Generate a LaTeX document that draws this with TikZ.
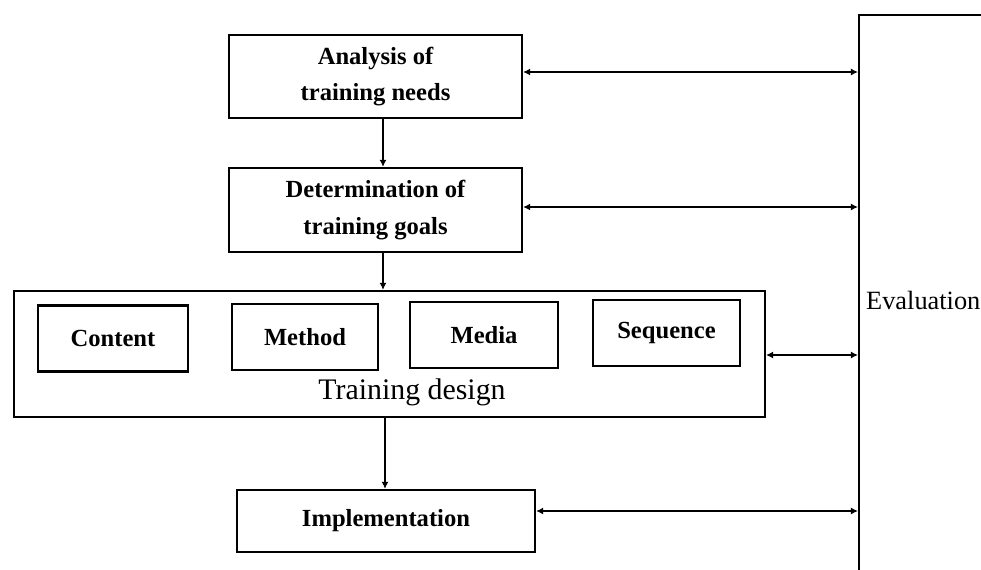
\documentclass[tikz,border=0pt]{standalone}
\usepackage{fontspec}
\setmainfont{Liberation Serif}
\usetikzlibrary{arrows.meta}
\begin{document}
\begin{tikzpicture}[x=0.02cm,y=-0.02cm,
    stage/.style={draw,line width=1.3pt,align=center,inner sep=0pt,font=\fontsize{14}{21}\selectfont\bfseries},
    part/.style={draw,line width=1.3pt,inner sep=0pt,minimum height=1.32cm,font=\fontsize{14}{17}\selectfont\bfseries},
    link/.style={line width=1pt,-{Latex[length=4pt,width=4pt]}},
    twoway/.style={line width=1pt,{Latex[length=4pt,width=4pt]}-{Latex[length=4pt,width=4pt]}}]
            \useasboundingbox (0,0) rectangle (981,569);

            \node[stage,minimum width=5.86cm,minimum height=1.66cm] (analysis) at (375.5,76.5) {Analysis of\\training needs};
            \node[stage,minimum width=5.86cm,minimum height=1.68cm] (goals) at (375.5,210) {Determination of\\training goals};
            \node[draw,line width=1.3pt,minimum width=15.02cm,minimum height=2.52cm] (design) at (389.5,354) {};
            \node[part,minimum width=3.0cm] (content) at (113,338.5) {Content};
            \node[part,minimum width=2.92cm] (method) at (305,337) {Method};
            \node[part,minimum width=2.96cm] (media) at (484,335) {Media};
            \node[part,minimum width=2.94cm] (sequence) at (666.5,333) {Sequence};
            \node[font=\fontsize{17}{20}\selectfont] (designlabel) at (412,392) {Training design};
            \node[stage,minimum width=5.96cm,minimum height=1.24cm] (implementation) at (386,521) {Implementation};
            \node[draw,line width=1.3pt,minimum width=3.2cm,minimum height=11.6cm,anchor=north west] (evaluation) at (858,14) {};
            \node[font=\fontsize{15}{18}\selectfont,anchor=west] (evallabel) at (860,300) {Evaluation};

            \draw[link] (analysis.south -| 383,0) -- (goals.north -| 383,0);
            \draw[link] (goals.south -| 383,0) -- (design.north -| 383,0);
            \draw[link] (design.south -| 385,0) -- (implementation.north -| 385,0);
            \draw[twoway] (analysis.east |- 0,72) -- (evaluation.west |- 0,72);
            \draw[twoway] (goals.east |- 0,207) -- (evaluation.west |- 0,207);
            \draw[twoway] (design.east |- 0,355) -- (evaluation.west |- 0,355);
            \draw[twoway] (implementation.east |- 0,511) -- (evaluation.west |- 0,511);
        \end{tikzpicture}
\end{document}
